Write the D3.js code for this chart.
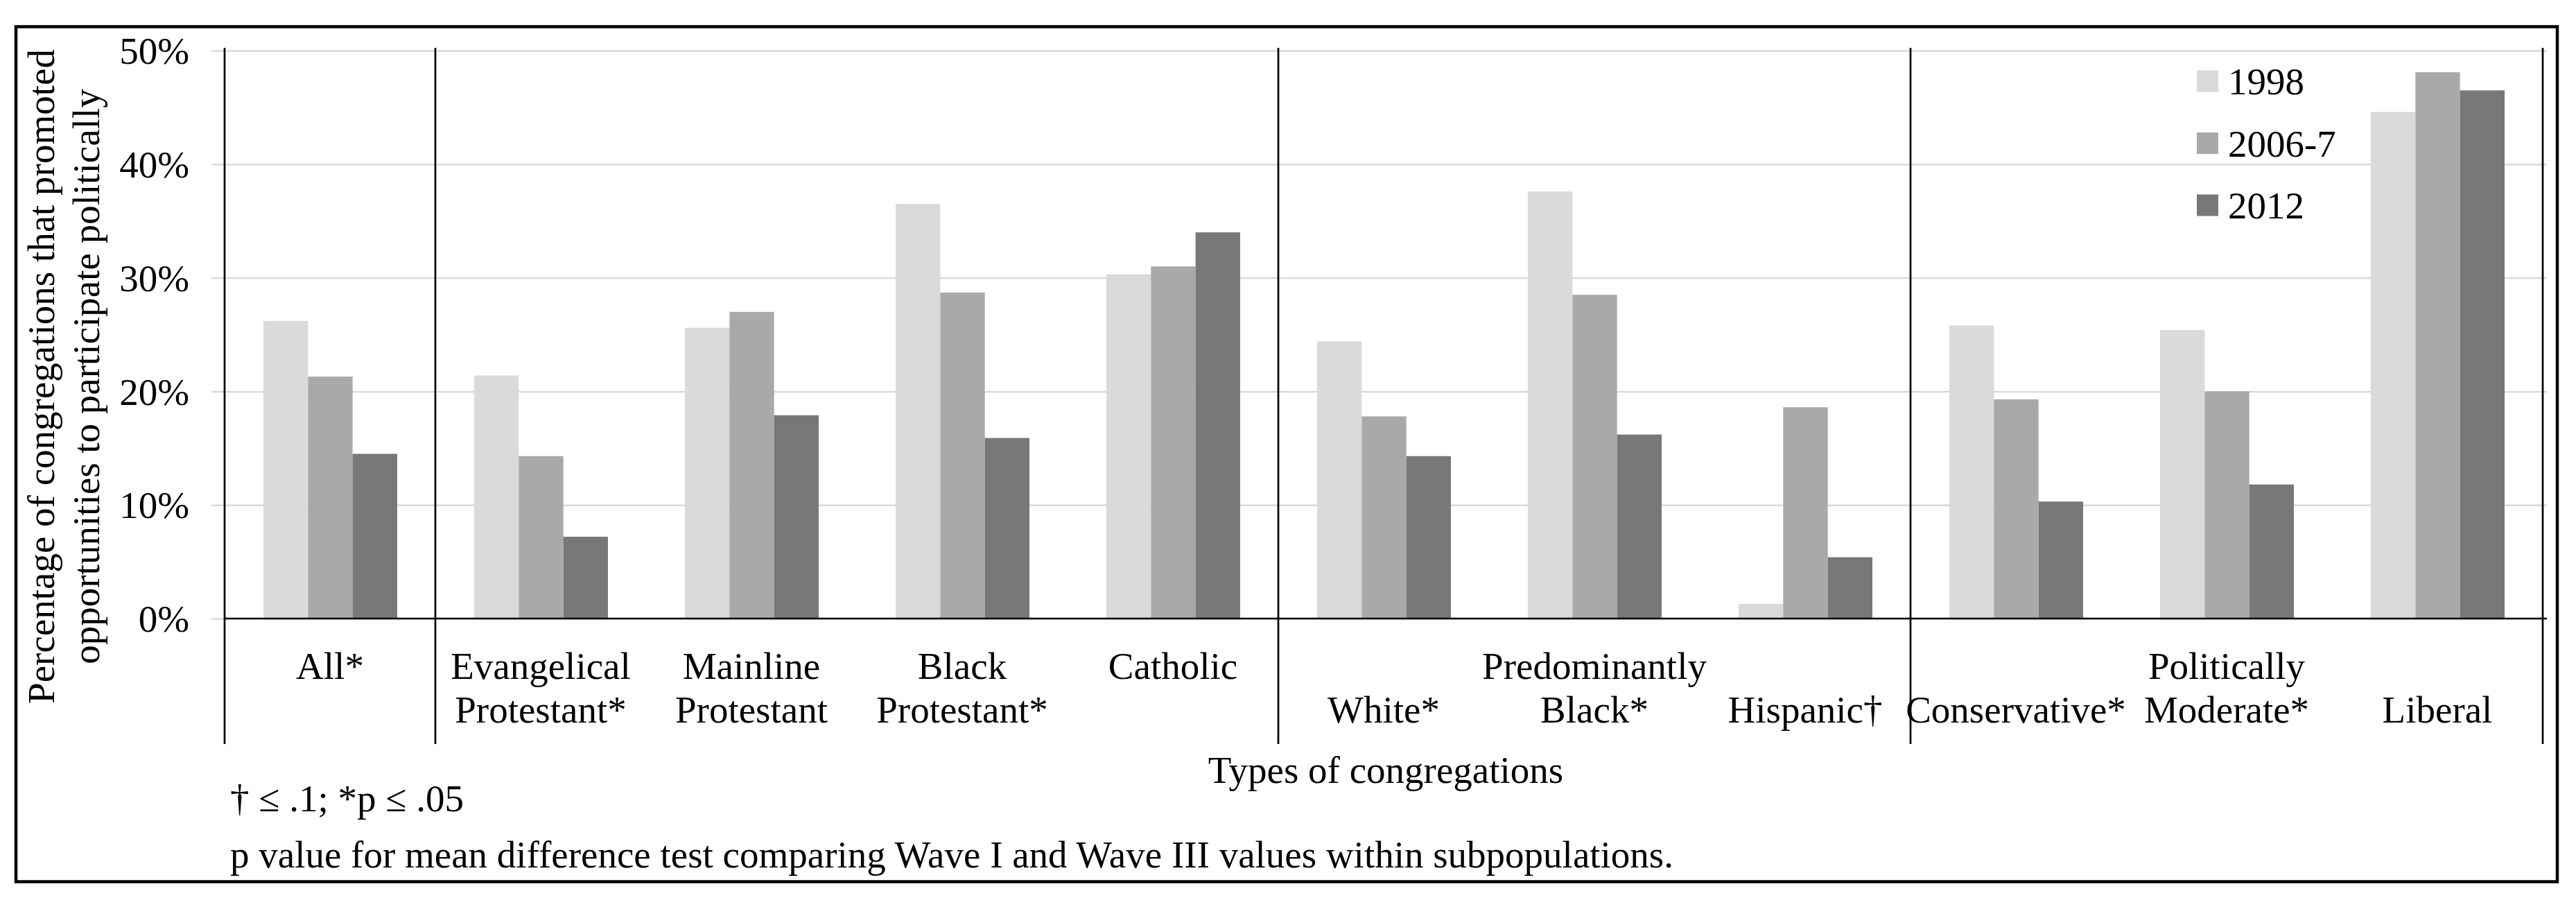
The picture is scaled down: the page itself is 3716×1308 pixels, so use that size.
<!DOCTYPE html>
<html>
<head>
<meta charset="utf-8">
<script src="https://cdn.jsdelivr.net/npm/d3@7"></script>
<style>
  html, body { margin: 0; padding: 0; background: #fff; }
  text { font-family: "Liberation Serif", "Times New Roman", serif; fill: #000; }
</style>
</head>
<body>
<svg id="chart"></svg>
<script>
// series and categories
var series = ['1998', '2006-7', '2012'];
var seriesColors = ['#dadada', '#a9a9a9', '#787878'];

var categories = ['All*', 'Evangelical Protestant*', 'Mainline Protestant', 'Black Protestant*', 'Catholic',
    'White*', 'Black*', 'Hispanic\u2020', 'Conservative*', 'Moderate*', 'Liberal'];
// label lines per category (first line empty when the group title sits above)
var categoryLines = [
    ['All*'], ['Evangelical', 'Protestant*'], ['Mainline', 'Protestant'], ['Black', 'Protestant*'], ['Catholic'],
    ['', 'White*'], ['', 'Black*'], ['', 'Hispanic\u2020'], ['', 'Conservative*'], ['', 'Moderate*'], ['', 'Liberal']
];

var values1998 = [26.2, 21.4, 25.6, 36.5, 30.3, 24.4, 37.6, 1.3, 25.8, 25.4, 44.6];
var values2006 = [21.3, 14.3, 27.0, 28.7, 31.0, 17.8, 28.5, 18.6, 19.3, 20.0, 48.1];
var values2012 = [14.5, 7.2, 17.9, 15.9, 34.0, 14.3, 16.2, 5.4, 10.3, 11.8, 46.5];

// groups of categories: index where each group starts, plus the end
var groupBreaks = [0, 1, 5, 8, 11];
var groupTitles = ['', '', 'Predominantly', 'Politically'];

var yTicks = [0, 10, 20, 30, 40, 50];
var yTitle = ['Percentage of congregations that promoted', 'opportunities to participate politically'];
var xTitle = 'Types of congregations';
var footnotes = ['\u2020 \u2264 .1; *p \u2264 .05',
    'p value for mean difference test comparing Wave I and Wave III values within subpopulations.'];

var W = 3716, H = 1308;
var FONT = 55;
var plot = { left: 324, right: 3668, top: 73, bottom: 892 };

var svg = d3.select('#chart').attr('width', W).attr('height', H);
svg.append('rect').attr('width', W).attr('height', H).attr('fill', '#fff');

// outer frame
svg.append('rect')
    .attr('x', 23).attr('y', 38.5)
    .attr('width', 3666).attr('height', 1233)
    .attr('fill', 'none').attr('stroke', '#000').attr('stroke-width', 4.5);

var x = d3.scaleBand().domain(categories).range([plot.left, plot.right]).padding(0);
var xSeries = d3.scaleBand().domain(series).range([56, 249]).padding(0);
var y = d3.scaleLinear().domain([0, 50]).range([plot.bottom, plot.top]);

// gridlines + tick labels
var yAxis = d3.axisLeft(y)
    .tickValues(yTicks)
    .tickFormat(function(d) { return d + '%'; })
    .tickSize(-(3674 - 305))
    .tickPadding(32);
var gy = svg.append('g').attr('transform', 'translate(305,0)').call(yAxis);
gy.select('.domain').remove();
gy.selectAll('.tick line').attr('stroke', '#d9d9d9').attr('stroke-width', 2.5);
gy.selectAll('.tick text')
    .attr('font-size', FONT)
    .attr('font-family', '"Liberation Serif", serif')
    .attr('fill', '#000')
    .attr('dy', '0.34em');

// bars
var allValues = [values1998, values2006, values2012];
var barData = [];
categories.forEach(function(c, i) {
    series.forEach(function(s, j) {
        barData.push({ cat: c, series: s, value: allValues[j][i], color: seriesColors[j] });
    });
});
svg.append('g').selectAll('rect')
    .data(barData)
    .enter().append('rect')
    .attr('x', function(d) { return x(d.cat) + xSeries(d.series); })
    .attr('y', function(d) { return y(d.value); })
    .attr('width', xSeries.bandwidth())
    .attr('height', function(d) { return y(0) - y(d.value); })
    .attr('fill', function(d) { return d.color; });

// category axis line
svg.append('line')
    .attr('x1', plot.left).attr('x2', 3674)
    .attr('y1', y(0)).attr('y2', y(0))
    .attr('stroke', '#000').attr('stroke-width', 2.7);

// group separators
var lineBottom = 1073;
groupBreaks.forEach(function(b) {
    var bx = b < categories.length ? x(categories[b]) : plot.right;
    svg.append('line')
        .attr('x1', bx).attr('x2', bx)
        .attr('y1', 69).attr('y2', lineBottom)
        .attr('stroke', '#000').attr('stroke-width', 2.7);
});

// category labels
var labelBase = 979, lineGap = 63;
var labels = svg.append('g').attr('font-size', FONT).attr('text-anchor', 'middle');
categories.forEach(function(c, i) {
    categoryLines[i].forEach(function(line, k) {
        if (!line) return;
        labels.append('text')
            .attr('x', x(c) + x.bandwidth() / 2)
            .attr('y', labelBase + k * lineGap)
            .text(line);
    });
});
// group titles
groupTitles.forEach(function(t, g) {
    if (!t) return;
    var x0 = x(categories[groupBreaks[g]]);
    var end = groupBreaks[g + 1];
    var x1 = end < categories.length ? x(categories[end]) : plot.right;
    labels.append('text')
        .attr('x', (x0 + x1) / 2)
        .attr('y', labelBase)
        .text(t);
});

// axis titles
svg.append('text')
    .attr('x', 1999).attr('y', 1129)
    .attr('font-size', FONT).attr('text-anchor', 'middle')
    .text(xTitle);

yTitle.forEach(function(t, k) {
    svg.append('text')
        .attr('transform', 'translate(' + (78 + k * 65) + ',543) rotate(-90)')
        .attr('font-size', FONT).attr('text-anchor', 'middle')
        .text(t);
});

// legend
var legend = svg.append('g').attr('font-size', FONT);
series.forEach(function(s, j) {
    var cy = 117 + j * 89.5;
    legend.append('rect')
        .attr('x', 3169).attr('y', cy - 15.5)
        .attr('width', 31).attr('height', 31)
        .attr('fill', seriesColors[j]);
    legend.append('text')
        .attr('x', 3214).attr('y', cy + 19)
        .text(s);
});

// footnotes
footnotes.forEach(function(t, k) {
    svg.append('text')
        .attr('x', 332).attr('y', 1170 + k * 81)
        .attr('font-size', FONT)
        .text(t);
});
</script>
</body>
</html>
